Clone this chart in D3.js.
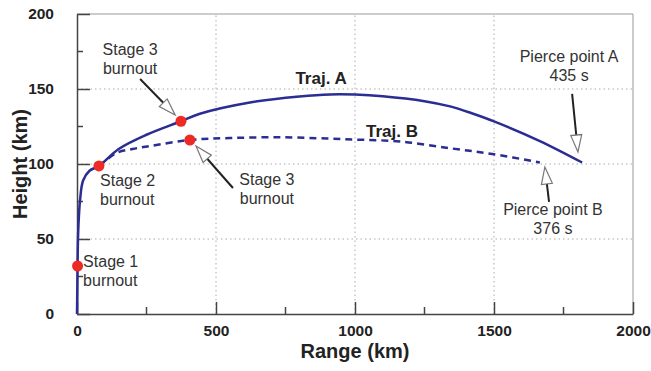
<!DOCTYPE html>
<html>
<head>
<meta charset="utf-8">
<script src="https://cdn.jsdelivr.net/npm/d3@7"></script>
<style>
  html, body { margin: 0; padding: 0; background: #fff; }
  svg { display: block; font-family: Arial, "Liberation Sans", sans-serif; }
</style>
</head>
<body>
<div id="chart"></div>
<script>
// trajectory samples: [range km, height km]
const trajA = [
  [0, 0], [1, 15], [2, 32], [3, 45], [5, 58], [11, 76], [22, 89], [45, 95.5],
  [79, 98.7], [150, 110], [250, 119.5], [374, 128.5], [442, 133.5], [622, 141],
  [800, 145], [910, 146.4], [1000, 146.3], [1100, 145.2], [1250, 141.9], [1342, 138.4],
  [1420, 133.8], [1500, 128.4], [1665, 115.3], [1817, 101]
];
const trajB = [
  [79, 98.7], [144, 107.5], [200, 110], [263, 112], [406, 116], [550, 117.3],
  [730, 117.8], [900, 117], [1000, 116.3], [1162, 115], [1342, 110.5],
  [1500, 106.5], [1665, 101]
];
const burnouts = [[2, 32], [79, 98.7], [374, 128.5], [406, 116]];

const xTicks = [0, 500, 1000, 1500, 2000];
const yTicks = [0, 50, 100, 150, 200];
const xMinor = [250, 750, 1250, 1750];
const yMinor = [25, 75, 125, 175];

// text notes: lines, anchor point in data units, alignment
const notes = [
  { lines: ["Stage 3", "burnout"], x: 191, y: 172.7, anchor: "middle" },
  { lines: ["Stage 3", "burnout"], x: 683, y: 86, anchor: "middle" },
  { lines: ["Stage 2", "burnout"], x: 83, y: 85.3, anchor: "start" },
  { lines: ["Stage 1", "burnout"], x: 22, y: 31.3, anchor: "start" },
  { lines: ["Pierce point A", "435 s"], x: 1770, y: 168, anchor: "middle" },
  { lines: ["Pierce point B", "376 s"], x: 1712, y: 66, anchor: "middle" }
];
const trajLabels = [
  { text: "Traj. A", x: 878, y: 153.3 },
  { text: "Traj. B", x: 1133, y: 118 }
];
// arrows: tail -> tip, data units
const arrows = [
  { from: [227, 156.7], to: [353, 132.7] },
  { from: [561, 84], to: [428, 112] },
  { from: [1781, 146.7], to: [1802, 108] },
  { from: [1698, 74.7], to: [1683, 98] }
];

const width = 651, height = 371;
const x = d3.scaleLinear().domain([0, 2000]).range([77, 633]);
const y = d3.scaleLinear().domain([0, 200]).range([314, 14]);

const svg = d3.select("#chart").append("svg")
  .attr("width", width).attr("height", height);

const lineColor = "#2a2d92";

// grid
const grid = svg.append("g").attr("stroke", "#aaa").attr("stroke-width", 1)
  .attr("stroke-dasharray", "1.5,3");
grid.selectAll("line.gx").data(xTicks.slice(1, -1)).join("line")
  .attr("x1", d => x(d)).attr("x2", d => x(d)).attr("y1", y(0)).attr("y2", y(200));
grid.selectAll("line.gy").data(yTicks.slice(1, -1)).join("line")
  .attr("x1", x(0)).attr("x2", x(2000)).attr("y1", d => y(d)).attr("y2", d => y(d));

// frame (top / right light)
svg.append("path")
  .attr("d", `M${x(0)},${y(200)}H${x(2000)}V${y(0)}`)
  .attr("fill", "none").attr("stroke", "#999").attr("stroke-width", 1);

// axes with inward ticks
const fmt = d3.format("d");
const xAxis = svg.append("g").attr("transform", `translate(0,${y(0)})`)
  .call(d3.axisBottom(x).tickValues(xTicks).tickFormat(fmt)
    .tickSize(-12).tickPadding(18).tickSizeOuter(0));
xAxis.append("g").selectAll("line").data(xMinor).join("line")
  .attr("x1", d => x(d)).attr("x2", d => x(d)).attr("y1", 0).attr("y2", -7);
const yAxis = svg.append("g").attr("transform", `translate(${x(0)},0)`)
  .call(d3.axisLeft(y).tickValues(yTicks).tickFormat(fmt)
    .tickSize(-13).tickPadding(23).tickSizeOuter(0));
yAxis.append("g").selectAll("line").data(yMinor).join("line")
  .attr("y1", d => y(d)).attr("y2", d => y(d)).attr("x1", 0).attr("x2", 6);

[xAxis, yAxis].forEach(a => {
  a.select(".domain").attr("stroke", "#444").attr("stroke-width", 1.5);
  a.selectAll("line").attr("stroke", "#444").attr("stroke-width", 1.5);
  a.selectAll("text").attr("fill", "#222").style("font-size", "15.5px")
    .style("font-weight", "bold").style("font-family", "Arial, 'Liberation Sans', sans-serif");
});
xAxis.selectAll(".tick text").attr("dy", "0.25em");

svg.append("text").attr("x", x(1000)).attr("y", 358).attr("text-anchor", "middle")
  .attr("fill", "#222").style("font-size", "20px").style("font-weight", "bold")
  .text("Range (km)");
svg.append("text").attr("transform", `translate(27,${y(100)}) rotate(-90)`)
  .attr("text-anchor", "middle").attr("fill", "#222")
  .style("font-size", "20px").style("font-weight", "bold").text("Height (km)");

// trajectories
const line = d3.line().x(d => x(d[0])).y(d => y(d[1])).curve(d3.curveCatmullRom.alpha(0.5));
svg.append("path").datum(trajB).attr("d", line).attr("fill", "none")
  .attr("stroke", lineColor).attr("stroke-width", 2.5).attr("stroke-dasharray", "7,5");
svg.append("path").datum(trajA).attr("d", line).attr("fill", "none")
  .attr("stroke", lineColor).attr("stroke-width", 2.5);

svg.selectAll("circle.burn").data(burnouts).join("circle")
  .attr("class", "burn").attr("cx", d => x(d[0])).attr("cy", d => y(d[1]))
  .attr("r", 5.5).attr("fill", "#ee2a24");

// labels
svg.selectAll("text.traj").data(trajLabels).join("text")
  .attr("class", "traj").attr("x", d => x(d.x)).attr("y", d => y(d.y))
  .attr("text-anchor", "middle").attr("fill", "#222")
  .style("font-size", "17px").style("font-weight", "bold").text(d => d.text);

const noteG = svg.selectAll("text.note").data(notes).join("text")
  .attr("class", "note").attr("x", d => x(d.x)).attr("y", d => y(d.y))
  .attr("text-anchor", d => d.anchor).attr("fill", "#333").style("font-size", "16px");
noteG.selectAll("tspan").data(d => d.lines.map(t => ({ t, x: x(d.x) }))).join("tspan")
  .attr("x", d => d.x).attr("dy", (d, i) => i ? 19 : 0).text(d => d.t);

// hollow-headed arrows
arrows.forEach(a => {
  const x0 = x(a.from[0]), y0 = y(a.from[1]), x1 = x(a.to[0]), y1 = y(a.to[1]);
  const len = Math.hypot(x1 - x0, y1 - y0);
  const ux = (x1 - x0) / len, uy = (y1 - y0) / len;
  const hl = 17, hw = 5.5;
  const bx = x1 - ux * hl, by = y1 - uy * hl;
  svg.append("line").attr("x1", x0).attr("y1", y0).attr("x2", bx).attr("y2", by)
    .attr("stroke", "#222").attr("stroke-width", 2);
  svg.append("path")
    .attr("d", `M${x1},${y1}L${bx - uy * hw},${by + ux * hw}L${bx + uy * hw},${by - ux * hw}Z`)
    .attr("fill", "#fff").attr("stroke", "#777").attr("stroke-width", 1.2);
});
</script>
</body>
</html>
